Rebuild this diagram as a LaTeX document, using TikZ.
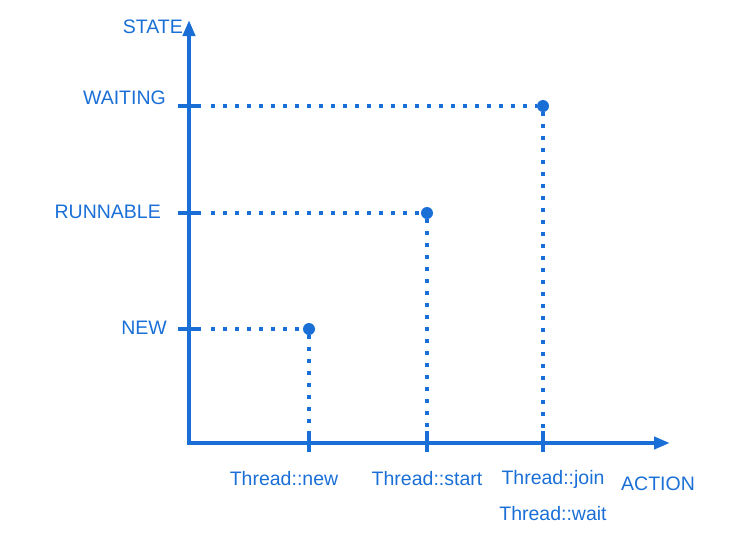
\documentclass[tikz,border=0pt]{standalone}
\usepackage{fontspec}
\setmainfont{Liberation Sans}
\usetikzlibrary{arrows.meta}
\definecolor{ax}{HTML}{1A6FD6}
\begin{document}
\begin{tikzpicture}[x=1pt,y=-1pt,
  axis/.style={ax,line width=4pt,-{Triangle[length=16pt,width=12pt]}},
  tickmark/.style={ax,line width=4pt},
  guide/.style={ax,line width=3.5pt,dash pattern=on 4pt off 8pt},
  pt/.style={circle,fill=ax,inner sep=0pt,minimum size=12pt},
  lbl/.style={text=ax,font=\fontsize{19.5}{23}\selectfont,inner sep=0pt}]
\useasboundingbox (0,0) rectangle (732,547);
\coordinate (O) at (189,443);
\coordinate (Yt) at (189,20);
\coordinate (Xt) at (670,443);
% ticks
\coordinate (yw) at (189,106);
\coordinate (yr) at (189,213);
\coordinate (yn) at (189,329);
\coordinate (xn) at (309,443);
\coordinate (xs) at (427,443);
\coordinate (xj) at (543,443);
\node[pt] (pn) at (309,329) {};
\node[pt] (ps) at (427,213) {};
\node[pt] (pw) at (543,106) {};
\foreach \c in {yw,yr,yn} \draw[tickmark] ([xshift=-11pt]\c) -- ([xshift=12pt]\c);
\foreach \c in {xn,xs,xj} \draw[tickmark] ([yshift=-9pt]\c) -- ([yshift=12pt]\c);
% guides
\draw[guide] ([xshift=22pt]yn) -- (pn.west);
\draw[guide] ([xshift=22pt]yr) -- (ps.west);
\draw[guide] ([xshift=22pt]yw) -- (pw.west);
\draw[guide] (pn.south) -- ([yshift=-10pt]xn);
\draw[guide] (ps.south) -- ([yshift=-10pt]xs);
\draw[guide] (pw.south) -- ([yshift=-10pt]xj);
% axes
\draw[axis] ([xshift=-2pt]O) -- (Xt);
\draw[axis] ([yshift=2pt]O) -- (Yt);
% labels
\node[lbl,anchor=east] (lstate) at (183,27) {STATE};
\node[lbl,anchor=east] (lwait) at (166,98) {WAITING};
\node[lbl,anchor=east] (lrun) at (161,212) {RUNNABLE};
\node[lbl,anchor=east] (lnew) at (167,328) {NEW};
\node[lbl] (ln) at (284,479) {Thread::new};
\node[lbl] (ls) at (427,479) {Thread::start};
\node[lbl] (lj) at (553,479) {Thread::join};
\node[lbl] (lw) at (553,514) {Thread::wait};
\node[lbl] (la) at (658,484) {ACTION};
\end{tikzpicture}
\end{document}
